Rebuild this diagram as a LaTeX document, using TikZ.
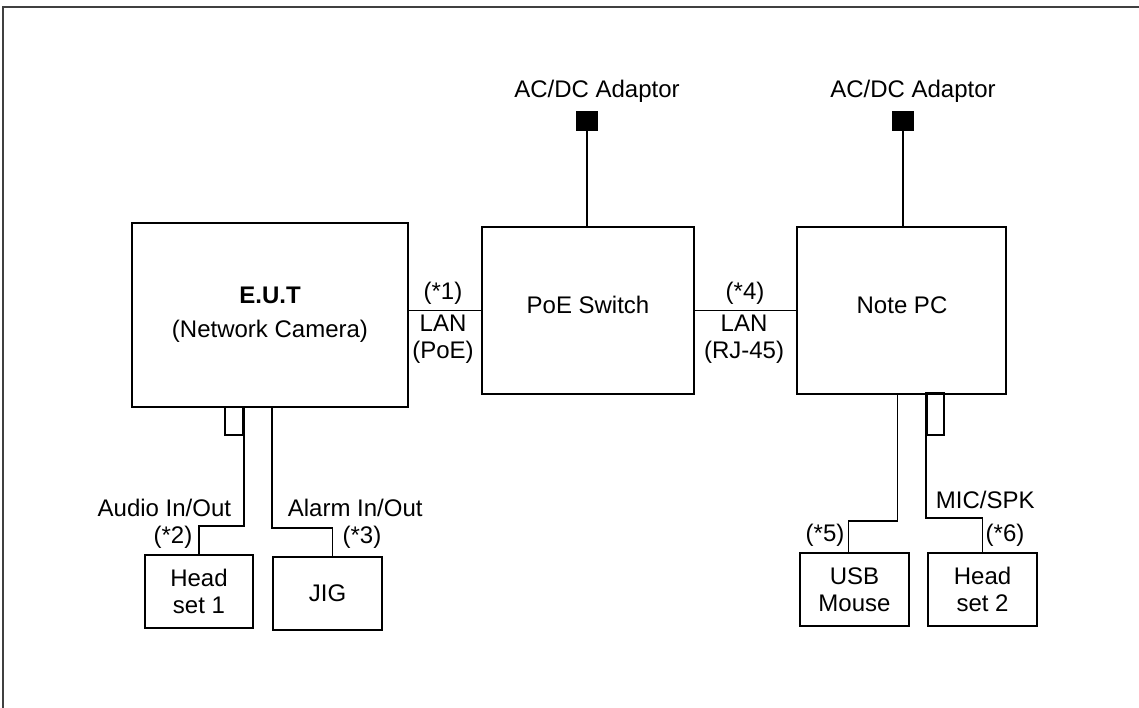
\documentclass[tikz,border=0pt]{standalone}
\usepackage{fontspec}
\setmainfont{Liberation Sans}
\usetikzlibrary{positioning}

\begin{document}
\begin{tikzpicture}[
  x=1pt, y=-1pt,
  font=\fontsize{24}{27}\selectfont,
  line width=1.8pt,
  unit/.style={
    rectangle, draw=black, fill=white,
    align=center, inner sep=0pt
  },
  port/.style={
    rectangle, draw=black, inner sep=0pt
  },
  plug/.style={
    rectangle, draw=black, fill=black,
    minimum width=20, minimum height=18, inner sep=0pt
  },
  lbl/.style={inner sep=0pt, align=center},
  wire/.style={draw=black, line width=1.8pt}
]
\useasboundingbox (0,0) rectangle (1139,708);

%% -- outer frame (top and left edges only) --------------------------
\coordinate (frmtl) at (3,7);
\draw[black!75, line width=2pt] (3,708) -- (frmtl) -- (1139,7);

%% -- main row ------------------------------------------------------
\node[unit, minimum width=276, minimum height=184] (eut) at (270,315)
  {\textbf{E.U.T}\\[7pt](Network Camera)};
\node[unit, minimum width=212, minimum height=167] (switch) at (588,310.5) {};
\node[lbl] (switchtxt) at (588,305) {PoE Switch};
\node[unit, minimum width=209, minimum height=167] (notepc) at (901.5,310.5) {};
\node[lbl] (notepctxt) at (902,305) {Note PC};

%% -- adaptors ------------------------------------------------------
\node[plug] (plug1) at (587,121) {};
\node[plug] (plug2) at (903,121) {};
\node[lbl, above=8pt of plug1, xshift=10pt] (adp1) {AC/DC Adaptor};
\node[lbl, above=8pt of plug2, xshift=10pt] (adp2) {AC/DC Adaptor};
\draw[wire] (plug1) -- (plug1 |- switch.north);
\draw[wire] (plug2) -- (plug2 |- notepc.north);

%% -- LAN links -----------------------------------------------------
\draw[wire] (switch.west -| eut.east) -- (switch.west);
\draw[wire] (switch.east) -- (switch.east -| notepc.west);
\node[lbl] (n1)   at (443,293) {(*1)};
\node[lbl] (lan1) at (443,339) {LAN\\(PoE)};
\node[lbl] (n4)   at (745,293) {(*4)};
\node[lbl] (lan4) at (744,339) {LAN\\(RJ-45)};

%% -- EUT peripherals -----------------------------------------------
\node[port, minimum width=18, minimum height=28] (audioport) at (234,421) {};
\node[unit, minimum width=108, minimum height=73] (head1) at (199,591.5) {Head\\set 1};
\node[unit, minimum width=109, minimum height=73] (jig) at (327.5,593.5) {JIG};

\draw[wire] (audioport.north east) -- ++(0,120) -| (head1.north);
\draw[wire] ([xshift=2pt]eut.south) -- ++(0,120) -| ([xshift=5pt]jig.north);

\node[lbl, anchor=east] (audiolbl) at (232,508) {Audio In/Out};
\node[lbl] (n2) at (173,537) {(*2)};
\node[lbl, anchor=west] (alarmlbl) at (287,508) {Alarm In/Out};
\node[lbl] (n3) at (362,537) {(*3)};

%% -- Note PC peripherals -------------------------------------------
\node[port, minimum width=17, minimum height=42] (micport) at (935.5,414) {};
\node[unit, minimum width=109, minimum height=73] (mouse) at (854.5,589.5) {USB\\Mouse};
\node[unit, minimum width=109, minimum height=73] (head2) at (982.5,589.5) {Head\\set 2};

\draw[wire] ([xshift=-4pt]notepc.south) -- ++(0,126) -| ([xshift=-6pt]mouse.north);
\draw[wire] (micport.north west) -- ++(0,126) -| (head2.north);

\node[lbl, anchor=west] (miclbl) at (935,500) {MIC/SPK};
\node[lbl] (n5) at (825,535) {(*5)};
\node[lbl] (n6) at (1005,535) {(*6)};

\end{tikzpicture}
\end{document}
